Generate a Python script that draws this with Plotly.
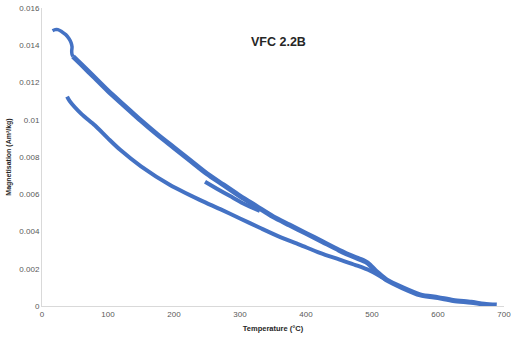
import plotly.graph_objects as go

# Initial hook of the heating run
hook_T = [16, 20, 24, 30, 36, 41, 44, 45.5, 45, 45.5, 47]
hook_M = [0.01478, 0.01484, 0.01484, 0.01473, 0.01457, 0.01435, 0.01414, 0.01392, 0.01368, 0.0135, 0.0134]

# Heating branch (upper)
heat_T = [47, 60, 80, 100, 125, 150, 175, 200, 225, 250,
          275, 300, 325, 350, 375, 400, 425, 450, 475, 490, 497, 505, 515, 522, 545, 573, 600, 623,
          650, 670, 689]
heat_M = [0.0134, 0.01295, 0.01225, 0.01155, 0.01075, 0.00995, 0.0092, 0.0085, 0.0078, 0.0071,
          0.0065, 0.0059, 0.00535, 0.0048, 0.00435, 0.0039, 0.00345, 0.0030, 0.0026, 0.00238,
          0.0022, 0.0019, 0.0016, 0.0014, 0.0010, 0.0006, 0.00045, 0.0003, 0.0002, 0.0001, 0.00005]

# Cooling branch (lower)
cool_T = [38, 42, 60, 80, 100, 118, 150, 194, 239, 270, 300, 330, 361, 390, 421, 450, 475, 497, 522]
cool_M = [0.01124, 0.0110, 0.0103, 0.0097, 0.0090, 0.0084, 0.0075, 0.0065, 0.0057, 0.0052,
          0.0047, 0.0042, 0.0037, 0.0033, 0.00285, 0.0025, 0.0022, 0.0019, 0.0014]

# Short inner segment
mid_T = [247, 265, 285, 305, 330]
mid_M = [0.00667, 0.0063, 0.0059, 0.0055, 0.0051]

x_ticks = [0, 100, 200, 300, 400, 500, 600, 700]
y_ticks = [0, 0.002, 0.004, 0.006, 0.008, 0.01, 0.012, 0.014, 0.016]
y_labels = ["0", "0.002", "0.004", "0.006", "0.008", "0.01", "0.012", "0.014", "0.016"]

blue = "#4472C4"
fig = go.Figure()
fig.add_trace(go.Scatter(x=hook_T, y=hook_M, mode="lines",
                         line=dict(color=blue, width=3.5, shape="spline", smoothing=1.0), showlegend=False))
fig.add_trace(go.Scatter(x=heat_T, y=heat_M, mode="lines",
                         line=dict(color=blue, width=5, shape="spline", smoothing=0.8), showlegend=False))
fig.add_trace(go.Scatter(x=cool_T, y=cool_M, mode="lines",
                         line=dict(color=blue, width=4, shape="spline", smoothing=0.8), showlegend=False))
fig.add_trace(go.Scatter(x=mid_T, y=mid_M, mode="lines",
                         line=dict(color=blue, width=4, shape="spline", smoothing=0.8), showlegend=False))

axis_font = dict(family="Liberation Sans, Arial", size=8, color="#595959")
fig.update_layout(
    width=511, height=341,
    margin=dict(l=42, r=7, t=8, b=35),
    paper_bgcolor="white", plot_bgcolor="white",
    xaxis=dict(range=[0, 700], tickvals=x_ticks, ticktext=[str(v) for v in x_ticks],
               showgrid=False, zeroline=False, showline=True, linecolor="#D9D9D9", linewidth=1,
               ticks="", tickfont=axis_font, ticklabeloverflow="allow", automargin=False,
               title=dict(text="<b>Temperature (°C)</b>", standoff=8,
                          font=dict(family="Liberation Sans, Arial", size=7.5, color="#262626"))),
    yaxis=dict(range=[0, 0.016], tickvals=y_ticks, ticktext=y_labels,
               showgrid=False, zeroline=False, showline=True, linecolor="#D9D9D9", linewidth=1,
               ticks="", tickfont=axis_font, ticklabeloverflow="allow", automargin=False,
               title=dict(text="<b>Magnetisation (Am²/kg)</b>", standoff=6,
                          font=dict(family="Liberation Sans, Arial", size=7, color="#262626"))),
    annotations=[dict(text="<b>VFC 2.2B</b>", x=0.512, y=0.915, xref="paper", yref="paper",
                      showarrow=False, font=dict(family="Liberation Sans, Arial", size=12.5, color="#262626"))],
)
fig.write_html("out.html")
